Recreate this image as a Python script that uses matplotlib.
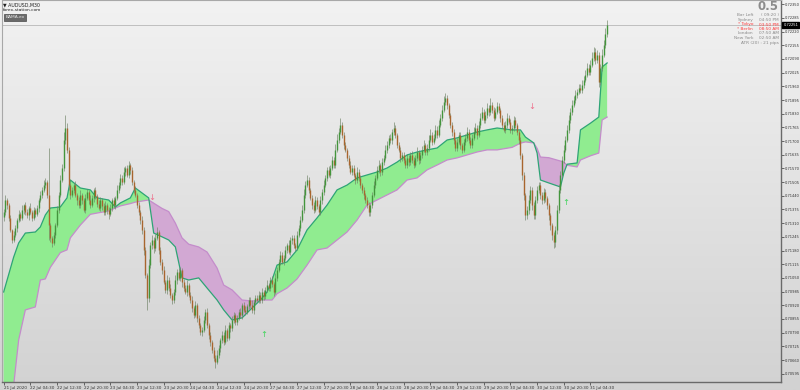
'''
AUDUSD M30 chart with a BAMA style band (MetaTrader look)
'''
import numpy as np
import matplotlib.pyplot as plt
from matplotlib.colors import LinearSegmentedColormap

# prices are in points above 0.70000 (1 point = 0.00001)
base_price = 0.70000
first_open = 1340
closes = [
    1363, 1420, 1396, 1335, 1278, 1230, 1254, 1287, 1325, 1354,
    1335, 1372, 1396, 1363, 1349, 1382, 1363, 1335, 1372, 1354,
    1382, 1420, 1444, 1468, 1491, 1505, 1444, 1301, 1240, 1216,
    1254, 1301, 1372, 1444, 1515, 1572, 1705, 1762, 1658, 1491,
    1444, 1468, 1491, 1444, 1420, 1396, 1444, 1420, 1372, 1430,
    1458, 1420, 1396, 1430, 1468, 1439, 1401, 1382, 1420, 1392,
    1363, 1396, 1372, 1354, 1382, 1420, 1396, 1430, 1468, 1491,
    1525, 1505, 1553, 1572, 1539, 1586, 1563, 1505, 1468, 1444,
    1396, 1363, 1325, 1278, 1183, 1064, 955, 1111, 1206, 1230,
    1192, 1240, 1268, 1183, 1126, 1088, 1031, 993, 1040, 1002,
    969, 945, 983, 1040, 1078, 1050, 1088, 1031, 1002, 983,
    1016, 969, 945, 907, 874, 921, 860, 826, 793, 803,
    850, 888, 826, 779, 746, 708, 670, 651, 684, 717,
    755, 779, 746, 803, 765, 826, 812, 850, 874, 841,
    860, 888, 874, 921, 898, 888, 917, 945, 921, 898,
    936, 955, 945, 969, 945, 983, 964, 993, 1016, 1002,
    1040, 1021, 983, 1050, 1088, 1126, 1159, 1126, 1145, 1183,
    1206, 1173, 1230, 1240, 1206, 1192, 1254, 1287, 1325, 1372,
    1444, 1491, 1515, 1468, 1430, 1396, 1372, 1420, 1392, 1363,
    1420, 1458, 1491, 1525, 1563, 1539, 1572, 1610, 1586, 1658,
    1705, 1743, 1776, 1729, 1681, 1658, 1620, 1586, 1553, 1572,
    1539, 1515, 1553, 1525, 1491, 1468, 1444, 1420, 1396, 1363,
    1396, 1444, 1491, 1525, 1563, 1586, 1553, 1600, 1620, 1658,
    1681, 1715, 1705, 1743, 1762, 1729, 1681, 1658, 1620, 1634,
    1610, 1586, 1620, 1600, 1634, 1610, 1586, 1620, 1648, 1610,
    1634, 1658, 1681, 1648, 1667, 1705, 1729, 1696, 1715, 1753,
    1729, 1776, 1810, 1848, 1886, 1905, 1871, 1824, 1776, 1743,
    1705, 1667, 1696, 1729, 1681, 1658, 1696, 1715, 1743, 1705,
    1681, 1715, 1743, 1762, 1729, 1776, 1810, 1838, 1800, 1824,
    1857, 1838, 1871, 1848, 1810, 1838, 1867, 1848, 1810, 1776,
    1753, 1776, 1810, 1791, 1753, 1762, 1800, 1776, 1743, 1705,
    1634, 1539, 1444, 1349, 1372, 1420, 1468, 1396, 1349, 1420,
    1468, 1491, 1444, 1420, 1458, 1430, 1396, 1349, 1301, 1254,
    1220, 1278, 1372, 1468, 1539, 1610, 1658, 1705, 1753, 1800,
    1838, 1871, 1895, 1919, 1933, 1952, 1942, 1966, 1990, 2014,
    2047, 2028, 2061, 2094, 2123, 2085, 2109, 1980, 2047, 2109,
    2156, 2210, 2251,
]
upper_wick = [
    15, 25, 10, 8, 12, 6, 20, 14, 9, 18, 11, 22, 7, 16, 12, 9, 24, 10, 13, 8,
    14, 10, 18, 12, 26, 20, 8, 223, 12, 10, 15, 9, 20, 14, 22, 18, 40, 62, 25, 14,
    10, 16, 12, 20, 9, 14, 22, 11, 8, 18, 15, 10, 24, 12, 9, 16, 11, 20, 13, 8,
    12, 18, 9, 14, 20, 11, 16, 10, 22, 15, 18, 12, 25, 10, 14, 20, 9, 16, 12, 18,
    10, 14, 8, 20, 12, 16, 10, 30, 14, 22, 12, 18, 25, 10, 16, 12, 20, 9, 24, 14,
    18, 10, 15, 22, 12, 20, 14, 10, 16, 12, 22, 9, 14, 18, 11, 20, 12, 16, 10, 14,
    20, 12, 18, 10, 14, 9, 12, 16, 22, 14, 10, 18, 12, 24, 10, 16, 12, 20, 14, 9,
    16, 12, 20, 10, 14, 18, 9, 15, 12, 22, 10, 16, 12, 18, 14, 20, 10, 16, 24, 12,
    14, 18, 10, 22, 12, 16, 20, 12, 14, 18, 10, 22, 16, 12, 14, 10, 18, 12, 20, 24,
    30, 18, 22, 12, 10, 14, 16, 20, 12, 10, 18, 14, 22, 16, 12, 20, 14, 18, 12, 26,
    28, 20, 34, 14, 12, 16, 10, 14, 20, 12, 16, 10, 22, 14, 12, 9, 14, 10, 12, 16,
    12, 16, 20, 14, 18, 22, 12, 20, 16, 24, 18, 14, 20, 16, 29, 12, 10, 14, 16, 12,
    14, 10, 18, 12, 16, 20, 12, 14, 22, 10, 16, 20, 24, 12, 18, 22, 26, 14, 18, 24,
    20, 24, 18, 22, 26, 23, 14, 12, 10, 16, 12, 10, 18, 14, 12, 10, 16, 20, 22, 12,
    14, 18, 22, 24, 12, 20, 22, 26, 14, 18, 24, 16, 33, 14, 12, 18, 20, 14, 10, 12,
    14, 18, 22, 16, 12, 14, 20, 16, 12, 10, 14, 10, 12, 8, 20, 24, 18, 12, 14, 20,
    18, 14, 16, 12, 20, 14, 10, 12, 10, 12, 14, 20, 22, 26, 18, 20, 24, 18, 22, 26,
    20, 24, 18, 22, 16, 20, 18, 24, 20, 22, 26, 18, 22, 28, 24, 18, 22, 14, 20, 26,
    22, 26, 24,
]
lower_wick = [
    20, 12, 18, 14, 10, 16, 8, 12, 20, 10, 14, 9, 18, 12, 16, 22, 10, 14, 8, 16,
    12, 18, 10, 14, 9, 12, 16, 71, 20, 18, 12, 16, 10, 14, 12, 9, 14, 20, 16, 22,
    18, 12, 16, 10, 22, 14, 12, 18, 10, 16, 12, 20, 14, 10, 18, 12, 16, 9, 14, 20,
    16, 12, 18, 22, 10, 14, 12, 18, 10, 16, 12, 14, 10, 18, 12, 16, 20, 12, 14, 10,
    16, 12, 20, 18, 22, 16, 57, 20, 14, 18, 22, 16, 12, 20, 14, 18, 12, 16, 20, 14,
    16, 20, 12, 14, 18, 12, 16, 22, 14, 10, 18, 12, 16, 20, 14, 12, 18, 16, 14, 20,
    12, 16, 14, 18, 20, 16, 14, 29, 12, 16, 18, 12, 14, 10, 16, 12, 18, 14, 12, 16,
    14, 12, 16, 18, 12, 14, 10, 16, 12, 14, 18, 12, 10, 16, 12, 14, 18, 12, 10, 14,
    16, 12, 18, 10, 14, 12, 16, 10, 14, 12, 16, 10, 14, 18, 12, 16, 10, 12, 14, 10,
    12, 14, 10, 16, 12, 18, 14, 10, 16, 12, 14, 18, 12, 10, 16, 12, 14, 10, 12, 16,
    12, 14, 10, 16, 18, 12, 14, 16, 10, 14, 12, 18, 14, 16, 12, 14, 18, 12, 16, 20,
    18, 14, 12, 16, 10, 14, 18, 12, 14, 10, 16, 12, 14, 18, 12, 16, 14, 12, 18, 14,
    16, 14, 12, 18, 14, 12, 16, 10, 14, 18, 12, 14, 10, 16, 12, 14, 10, 16, 12, 10,
    14, 12, 10, 16, 12, 14, 18, 16, 14, 20, 18, 14, 16, 12, 18, 14, 12, 16, 14, 12,
    14, 16, 12, 10, 18, 12, 14, 10, 16, 12, 14, 18, 12, 16, 14, 12, 10, 16, 18, 14,
    12, 14, 16, 12, 14, 18, 12, 14, 16, 18, 20, 24, 22, 24, 18, 20, 16, 22, 20, 18,
    16, 14, 18, 20, 14, 18, 20, 22, 24, 26, 28, 22, 18, 14, 16, 12, 14, 12, 10, 14,
    12, 14, 10, 12, 14, 10, 16, 12, 14, 10, 12, 16, 14, 10, 12, 18, 14, 23, 16, 12,
    10, 12, 14,
]

# BAMA band: fast (teal) and slow (purple) lines, read at these bars
band_bars = [0, 6, 9, 13, 19, 22, 25, 28, 34, 38,
             40, 46, 52, 56, 63, 67, 70, 76, 79, 87,
             90, 95, 99, 103, 107, 111, 117, 122, 128, 132,
             137, 143, 149, 154, 158, 161, 164, 170, 176, 182,
             188, 194, 200, 206, 212, 218, 224, 230, 236, 242,
             248, 254, 260, 266, 272, 278, 284, 290, 296, 305,
             310, 313, 318, 320, 322, 327, 334, 336, 338, 344,
             346, 352, 357, 359, 362]
fast_line = [983, 1149, 1216, 1263, 1268, 1292, 1349, 1382, 1387, 1430,
             1515, 1477, 1468, 1430, 1420, 1387, 1406, 1430, 1477, 1430,
             1263, 1245, 1230, 1197, 1050, 1040, 1050, 1002, 945, 898,
             850, 860, 907, 945, 983, 1040, 1111, 1126, 1183, 1278,
             1335, 1396, 1468, 1491, 1525, 1539, 1553, 1572, 1600, 1634,
             1648, 1658, 1667, 1705, 1715, 1729, 1743, 1753, 1762, 1753,
             1753, 1719, 1691, 1643, 1515, 1501, 1482, 1548, 1590, 1596,
             1753, 1785, 1814, 2052, 2071]
slow_line = [328, 541, 755, 898, 912, 1040, 1045, 1100, 1170, 1183,
             1240, 1301, 1352, 1358, 1368, 1382, 1392, 1403, 1410, 1420,
             1405, 1380, 1365, 1310, 1240, 1210, 1197, 1173, 1097, 1016,
             993, 945, 940, 945, 945, 945, 975, 1002, 1045, 1111,
             1183, 1192, 1230, 1268, 1325, 1396, 1420, 1444, 1468, 1515,
             1525, 1563, 1586, 1610, 1620, 1634, 1648, 1658, 1658, 1670,
             1690, 1696, 1691, 1665, 1624, 1621, 1605, 1600, 1585, 1577,
             1610, 1630, 1643, 1800, 1814]

# crossing arrows
down_arrow_bars = [89, 317]
down_arrow_prices = [1434, 1862]
up_arrow_bars = [156, 337]
up_arrow_prices = [783, 1406]

date_labels = ['21 Jul 2020', '22 Jul 04:30', '22 Jul 12:30', '22 Jul 20:30',
               '23 Jul 04:30', '23 Jul 12:30', '23 Jul 20:30', '24 Jul 04:30',
               '24 Jul 12:30', '24 Jul 20:30', '27 Jul 04:30', '27 Jul 12:30',
               '27 Jul 20:30', '28 Jul 04:30', '28 Jul 12:30', '28 Jul 20:30',
               '29 Jul 04:30', '29 Jul 12:30', '29 Jul 20:30', '30 Jul 04:30',
               '30 Jul 12:30', '30 Jul 20:30', '31 Jul 04:30']
bars_per_label = 16

info_names = ['Bar Left', 'Sydney', '* Tokyo', '* Berlin', 'London', 'New York']
info_values = ['( 09:20 )', '04:50 PM', '03:50 PM', '08:50 AM', '07:50 AM', '02:50 AM']
info_colors = ['#8a8a8a', '#8a8a8a', '#ff3b3b', '#ff3b3b', '#8a8a8a', '#8a8a8a']
atr_text = 'ATR (20) : 21 pips'


def to_price(points):
    return np.asarray(points, dtype=float) / 1e5 + base_price


c = np.array(closes, dtype=float)
o = np.r_[first_open, c[:-1]]
h = np.maximum(o, c) + np.array(upper_wick)
l = np.minimum(o, c) - np.array(lower_wick)
x = np.arange(len(c))
up = c >= o

fig = plt.figure(figsize=(8, 3.9), dpi=100)

# window background gradient
bg = fig.add_axes([0, 0, 1, 1], zorder=-5)
grad_cmap = LinearSegmentedColormap.from_list('mt', ['#f2f2f2', '#d2d2d2'])
bg.imshow(np.linspace(0, 1, 256).reshape(-1, 1), aspect='auto', cmap=grad_cmap,
          extent=[0, 1, 0, 1])
bg.axis('off')

ax = fig.add_axes([0.0025, 0.0205, 0.97375, 0.9795])
ax.set_facecolor('none')

bx = np.array(band_bars)
fast = to_price(fast_line)
slow = to_price(slow_line)
ax.fill_between(bx, fast, slow, where=fast >= slow, interpolate=True,
                color='#90ec90', lw=0, zorder=1)
ax.fill_between(bx, fast, slow, where=fast < slow, interpolate=True,
                color='#d2a8d3', lw=0, zorder=1)
ax.plot(bx, slow, color='#c48ccb', lw=0.9, zorder=2)
ax.plot(bx, fast, color='#2ea476', lw=0.9, zorder=2)

# candles
ax.vlines(x, to_price(l), to_price(h), colors='#6f8266', lw=0.45, zorder=3)
body_cols = np.where(up, '#43953c', '#a8652e')
ax.vlines(x, to_price(np.minimum(o, c)), to_price(np.maximum(o, c)),
          colors=body_cols, lw=1.0, zorder=4)

for b, p in zip(down_arrow_bars, down_arrow_prices):
    ax.text(b, to_price(p), '↓', color='#ee6f8c', fontsize=6, ha='center',
            va='center', zorder=5)
for b, p in zip(up_arrow_bars, up_arrow_prices):
    ax.text(b, to_price(p), '↑', color='#3fd45a', fontsize=6, ha='center',
            va='center', zorder=5)

# current price line and label
last = to_price(closes[-1])
ax.axhline(last, color='#b8b8b8', lw=0.6, zorder=0.5)
ax.text(1.003, last, f'{last:.5f}', transform=ax.get_yaxis_transform(),
        fontsize=2.6, color='white', va='center', ha='left',
        bbox=dict(fc='black', ec='black', pad=0.7), clip_on=False)

ax.set_xlim(-1, 466.3)
ax.set_ylim(to_price(555.5), to_price(2370))

ax.set_xticks(np.arange(len(date_labels)) * bars_per_label)
ax.set_xticklabels(date_labels, ha='left', fontsize=3.0, color='#333333')
price_ticks = np.arange(0.70595, 0.72351, 0.00065)
ax.yaxis.tick_right()
ax.set_yticks(price_ticks)
ax.set_yticklabels([f'{t:.5f}' for t in price_ticks], fontsize=2.6, color='#333333')
ax.tick_params(axis='y', length=2, width=0.5, pad=1.0, colors='#333333')
ax.tick_params(axis='x', length=2, width=0.5, pad=1.0, colors='#333333')

for side in ['right', 'bottom']:
    ax.spines[side].set_color('#6a6a6a')
    ax.spines[side].set_linewidth(1.0)
ax.spines['left'].set_color('#a8a8a8')
ax.spines['top'].set_color('#a8a8a8')

# top-left header
fig.text(0.004, 0.995, '▼ AUDUSD,M30', fontsize=3.4, va='top', ha='left', color='#202020')
fig.text(0.004, 0.980, 'forex-station.com', fontsize=3.2, va='top', ha='left', color='#202020')
fig.text(0.007, 0.956, 'BAMA.ex', fontsize=3.2, va='center', ha='left', color='#e8e8e8',
         bbox=dict(boxstyle='square,pad=0.35', fc='#6a6a6a', ec='#4a4a4a', lw=0.5))

# top-right info panel
fig.text(779 / 800, 1 - 0.5 / 390, '0.5', fontsize=8.5, weight='bold', color='#8c8c8c',
         ha='right', va='top')
row_y = [15.5, 20.0, 24.5, 29.0, 33.5, 38.0]
for yy, name, val, col in zip(row_y, info_names, info_values, info_colors):
    fig.text(753 / 800, 1 - yy / 390, name, fontsize=3.1, color=col, ha='right', va='center')
    fig.text(779 / 800, 1 - yy / 390, val, fontsize=3.1, color=col, ha='right', va='center')
fig.text(779 / 800, 1 - 42.8 / 390, atr_text, fontsize=3.1, color='#8a8a8a',
         ha='right', va='center')

plt.savefig('out.png', dpi=100)
